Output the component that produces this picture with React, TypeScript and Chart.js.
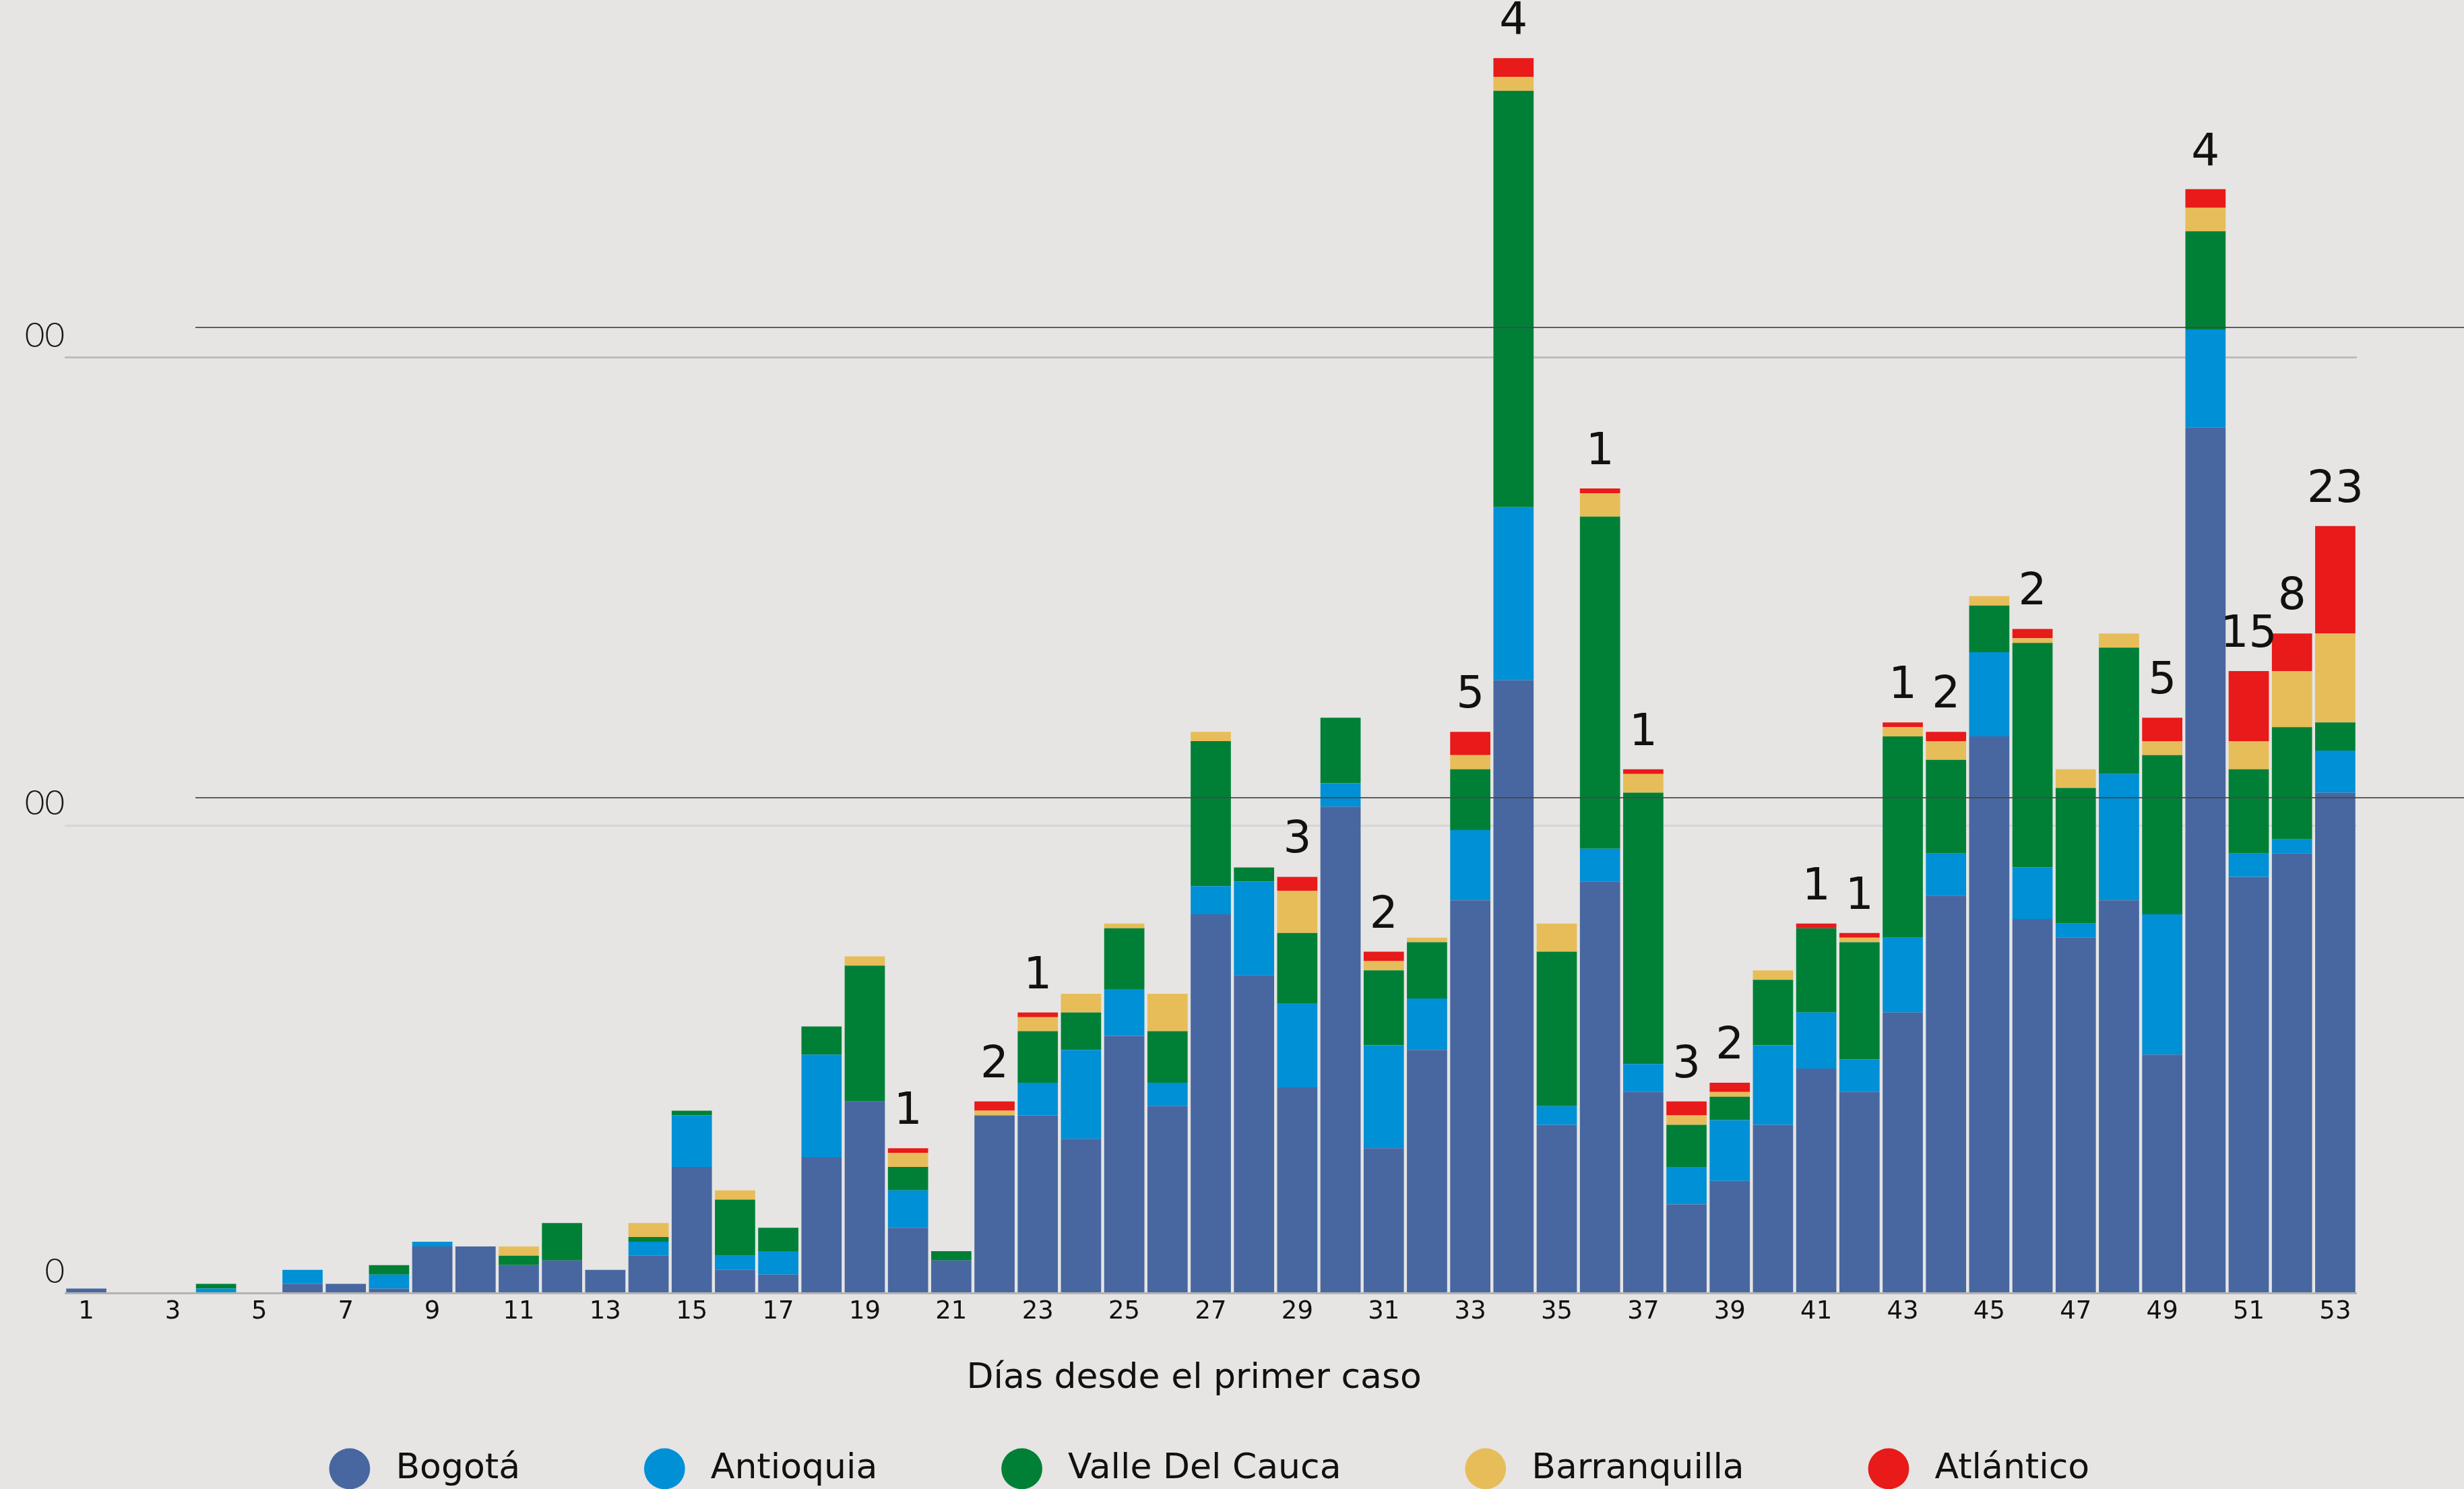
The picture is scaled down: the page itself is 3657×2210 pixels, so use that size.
import React, { useEffect, useRef } from "react";
import { Chart, registerables } from "chart.js";

Chart.register(...registerables);

const days = [
  "1", "2", "3", "4", "5", "6", "7", "8", "9", "10",
  "11", "12", "13", "14", "15", "16", "17", "18", "19", "20",
  "21", "22", "23", "24", "25", "26", "27", "28", "29", "30",
  "31", "32", "33", "34", "35", "36", "37", "38", "39", "40",
  "41", "42", "43", "44", "45", "46", "47", "48", "49", "50",
  "51", "52", "53",
];

const bogota = [
  1, 0, 0, 0, 0, 2, 2, 1, 10, 10,
  6, 7, 5, 8, 27, 5, 4, 29, 41, 14,
  7, 38, 38, 33, 55, 40, 81, 68, 44, 104,
  31, 52, 84, 131, 36, 88, 43, 19, 24, 36,
  48, 43, 60, 85, 119, 80, 76, 84, 51, 185,
  89, 94, 107,
];

const antioquia = [
  0, 0, 0, 1, 0, 3, 0, 3, 1, 0,
  0, 0, 0, 3, 11, 3, 5, 22, 0, 8,
  0, 0, 7, 19, 10, 5, 6, 20, 18, 5,
  22, 11, 15, 37, 4, 7, 6, 8, 13, 17,
  12, 7, 16, 9, 18, 11, 3, 27, 30, 21,
  5, 3, 9,
];

const valle = [
  0, 0, 0, 1, 0, 0, 0, 2, 0, 0,
  2, 8, 0, 1, 1, 12, 5, 6, 29, 5,
  2, 0, 11, 8, 13, 11, 31, 3, 15, 14,
  16, 12, 13, 89, 33, 71, 58, 9, 5, 14,
  18, 25, 43, 20, 10, 48, 29, 27, 34, 21,
  18, 24, 6,
];

const barranquilla = [
  0, 0, 0, 0, 0, 0, 0, 0, 0, 0,
  2, 0, 0, 3, 0, 2, 0, 0, 2, 3,
  0, 1, 3, 4, 1, 8, 2, 0, 9, 0,
  2, 1, 3, 3, 6, 5, 4, 2, 1, 2,
  0, 1, 2, 4, 2, 1, 4, 3, 3, 5,
  6, 12, 19,
];

const atlantico = [
  0, 0, 0, 0, 0, 0, 0, 0, 0, 0,
  0, 0, 0, 0, 0, 0, 0, 0, 0, 1,
  0, 2, 1, 0, 0, 0, 0, 0, 3, 0,
  2, 0, 5, 4, 0, 1, 1, 3, 2, 0,
  1, 1, 1, 2, 0, 2, 0, 0, 5, 4,
  15, 8, 23,
];

const seriesNames = ["Bogotá", "Antioquia", "Valle Del Cauca", "Barranquilla", "Atlántico"];
const seriesColors = ["#4867a1", "#0090d6", "#008037", "#e7bd59", "#e81a1a"];
const yTicks = [0, 100, 200];
const overlayLineValues = [206.4, 105.9];
const xTitle = "Días desde el primer caso";

const FONT = "'DejaVu Sans', sans-serif";

export default function App() {
  const ref = useRef<HTMLCanvasElement>(null);

  useEffect(() => {
    const canvas = ref.current;
    if (!canvas) return;

    const labelPlugin = {
      id: "atlLabels",
      afterDatasetsDraw(chart: any) {
        const ctx = chart.ctx;
        const meta = chart.getDatasetMeta(4);
        ctx.save();
        ctx.font = "66px " + FONT;
        ctx.fillStyle = "#111";
        ctx.textAlign = "center";
        ctx.textBaseline = "alphabetic";
        atlantico.forEach((v, i) => {
          if (!v) return;
          const el = meta.data[i];
          ctx.fillText(String(v), el.x, el.y - 36);
        });
        ctx.restore();
      },
    };

    const overlayPlugin = {
      id: "overlayLines",
      afterDraw(chart: any) {
        const ctx = chart.ctx;
        const y = chart.scales.y;
        ctx.save();
        ctx.strokeStyle = "rgba(70,70,70,0.85)";
        ctx.lineWidth = 2;
        overlayLineValues.forEach((v) => {
          const py = Math.round(y.getPixelForValue(v));
          ctx.beginPath();
          ctx.moveTo(255, py);
          ctx.lineTo(chart.width, py);
          ctx.stroke();
        });
        ctx.restore();
      },
    };

    const datasets = [bogota, antioquia, valle, barranquilla, atlantico].map((d, i) => ({
      label: seriesNames[i],
      data: d,
      backgroundColor: seriesColors[i],
      borderWidth: 0,
      barPercentage: 0.93,
      categoryPercentage: 1,
      stack: "s",
      pointStyle: "circle",
    }));

    const chart = new Chart(canvas, {
      type: "bar",
      data: { labels: days, datasets },
      plugins: [labelPlugin, overlayPlugin],
      options: {
        responsive: false,
        maintainAspectRatio: false,
        devicePixelRatio: 1,
        animation: false,
        layout: { padding: { left: 0, right: 159, top: 44.6, bottom: 0 } },
        plugins: {
          tooltip: { enabled: false },
          title: { display: false },
          legend: {
            display: true,
            position: "bottom",
            align: "center",
            fullSize: false,
            labels: {
              usePointStyle: true,
              pointStyle: "circle",
              boxWidth: 52,
              boxHeight: 43,
              padding: 23,
              color: "#111",
              font: { family: FONT, size: 52 },
              generateLabels: (c: any) => {
                const items = (Chart.defaults.plugins.legend.labels as any).generateLabels(c);
                return items.map((it: any, i: number) => ({
                  ...it,
                  text: " " + it.text + (i < items.length - 1 ? " ".repeat(10) : ""),
                  pointStyle: "circle",
                  lineWidth: 0,
                }));
              },
            },
          },
        },
        scales: {
          x: {
            stacked: true,
            offset: true,
            grid: { display: false, drawTicks: false },
            border: { display: false },
            ticks: {
              autoSkip: false,
              maxRotation: 0,
              minRotation: 0,
              padding: 6,
              color: "#111",
              font: { family: FONT, size: 37 },
              callback: (_v: any, idx: number) => (idx % 2 === 0 ? days[idx] : ""),
            },
            title: {
              display: true,
              text: xTitle + "   ",
              color: "#111",
              font: { family: FONT, size: 52 },
              padding: { top: 39.8, bottom: 53 },
            },
          },
          y: {
            stacked: true,
            min: 0,
            max: 270,
            afterBuildTicks: (scale: any) => {
              scale.ticks = yTicks.map((v) => ({ value: v }));
            },
            afterFit: (scale: any) => {
              scale.width = 61;
            },
            grid: {
              drawTicks: false,
              lineWidth: 3,
              color: (ctx: any) => {
                const v = ctx.tick ? ctx.tick.value : 0;
                if (v === 0) return "#b3b3b3";
                if (v === 100) return "#d6d6d6";
                return "#bdbdbd";
              },
            },
            border: { display: false },
            ticks: {
              padding: 0,
              labelOffset: -32,
              color: "#1a1a1a",
              font: { family: "Lato, 'DejaVu Sans', sans-serif", size: 51, weight: "300" as any },
            },
          },
        },
      },
    } as any);

    return () => chart.destroy();
  }, []);

  return (
    <div
      style={{
        position: "absolute",
        left: 0,
        top: 0,
        width: 3657,
        height: 2210,
        background: "#e6e5e3",
        overflow: "hidden",
      }}
    >
      <div style={{ position: "absolute", left: 35, top: 0, width: 3622, height: 2216 }}>
        <canvas ref={ref} width={3622} height={2216} style={{ width: 3622, height: 2216, display: "block" }} />
      </div>
    </div>
  );
}
